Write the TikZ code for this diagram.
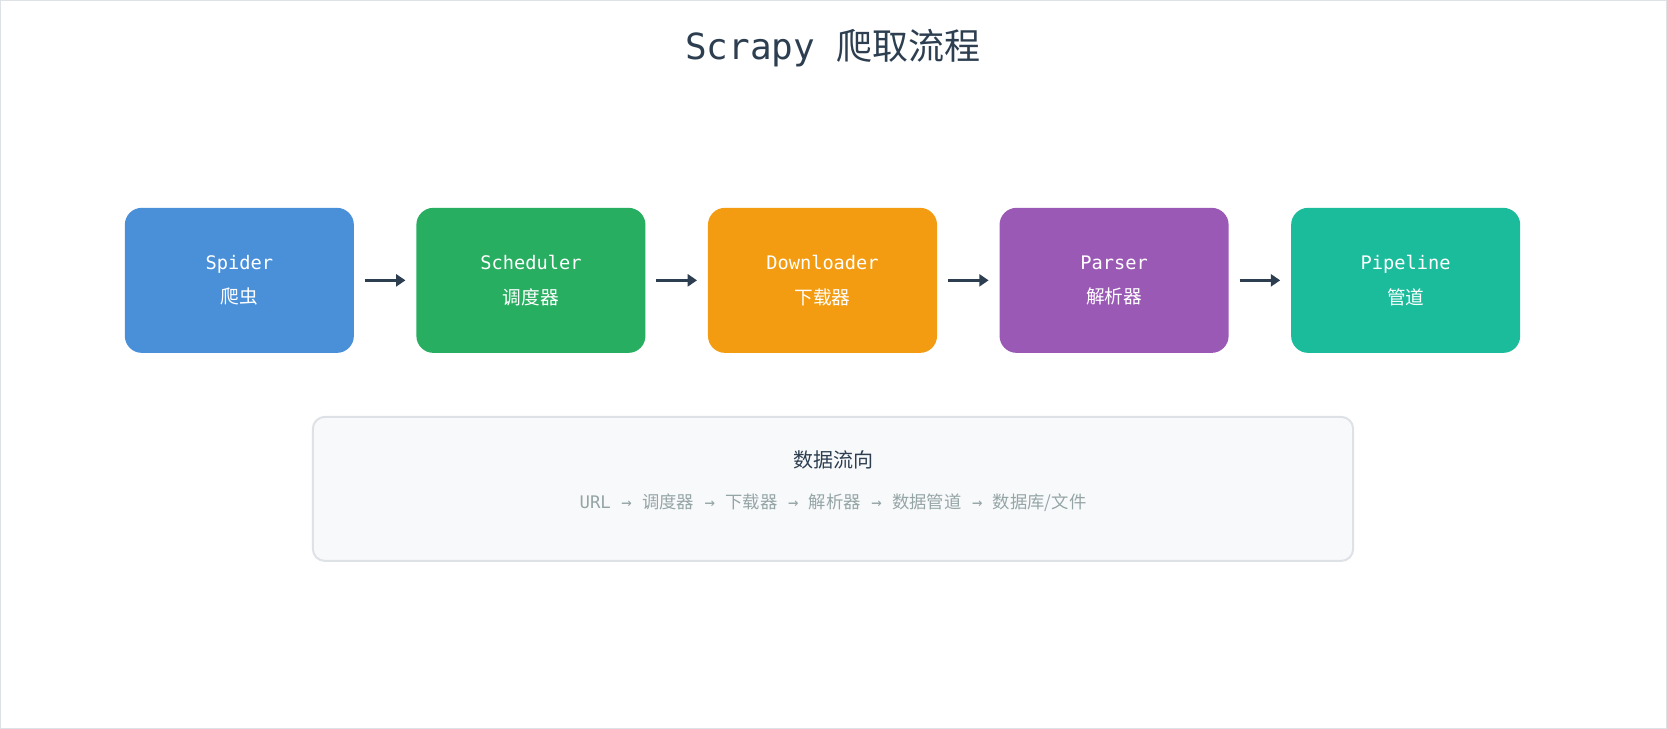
\documentclass[tikz,border=0pt]{standalone}
\usepackage{fontspec}
\setmonofont{DejaVu Sans Mono}
\newfontfamily\cjk{Noto Sans CJK SC}
\usetikzlibrary{arrows.meta,positioning}
\definecolor{ink}{HTML}{2C3E50}
\definecolor{spidercol}{HTML}{4A90D9}
\definecolor{schedcol}{HTML}{27AE60}
\definecolor{downcol}{HTML}{F39C12}
\definecolor{parsecol}{HTML}{9B59B6}
\definecolor{pipecol}{HTML}{1ABC9C}
\definecolor{notefill}{HTML}{F8F9FA}
\definecolor{noteline}{HTML}{DEE2E6}
\definecolor{notetext}{HTML}{95A5A6}
\begin{document}
\begin{tikzpicture}[x=0.75pt,y=-0.75pt,
    stage/.style={draw=none,rounded corners=12.75pt,minimum width=171.75pt,
      minimum height=108.75pt,text=white,align=center,font=\fontsize{14}{26}\selectfont},
    flow/.style={-{Triangle[length=7pt,width=9pt]},line width=2.2pt,draw=ink}]

    \path[draw=noteline,fill=white] (0.5,0.5) rectangle (1666.5,728.5);

    % Title
    \node[text=ink,font=\fontsize{27}{30}\selectfont] (title) at (833,48)
        {\ttfamily Scrapy {\cjk 爬取流程}};

    % Stages
    \node[stage,fill=spidercol] (spider) at (239.5,280.5) {\ttfamily Spider\\{\cjk 爬虫}};
    \node[stage,fill=schedcol] (sched) at (531,280.5) {\ttfamily Scheduler\\{\cjk 调度器}};
    \node[stage,fill=downcol] (down) at (822.5,280.5) {\ttfamily Downloader\\{\cjk 下载器}};
    \node[stage,fill=parsecol] (parse) at (1114,280.5) {\ttfamily Parser\\{\cjk 解析器}};
    \node[stage,fill=pipecol] (pipe) at (1405.5,280.5) {\ttfamily Pipeline\\{\cjk 管道}};

    % Arrows between stages
    \draw[flow] ([xshift=8pt]spider.east) -- ([xshift=-8pt]sched.west);
    \draw[flow] ([xshift=8pt]sched.east) -- ([xshift=-8pt]down.west);
    \draw[flow] ([xshift=8pt]down.east) -- ([xshift=-8pt]parse.west);
    \draw[flow] ([xshift=8pt]parse.east) -- ([xshift=-8pt]pipe.west);

    % Data flow note
    \node[draw=noteline,line width=1.5pt,fill=notefill,rounded corners=9pt,
        minimum width=780pt,minimum height=108pt] (note) at (833,489) {};
    \node[text=ink,font=\cjk\fontsize{15}{18}\selectfont] (notetitle) at (833,460) {数据流向};
    \node[text=notetext,font=\fontsize{13}{16}\selectfont] (noteline) at (833,503)
        {\ttfamily URL → {\cjk 调度器} → {\cjk 下载器} → {\cjk 解析器} → {\cjk 数据管道} → {\cjk 数据库/文件}};
\end{tikzpicture}
\end{document}
